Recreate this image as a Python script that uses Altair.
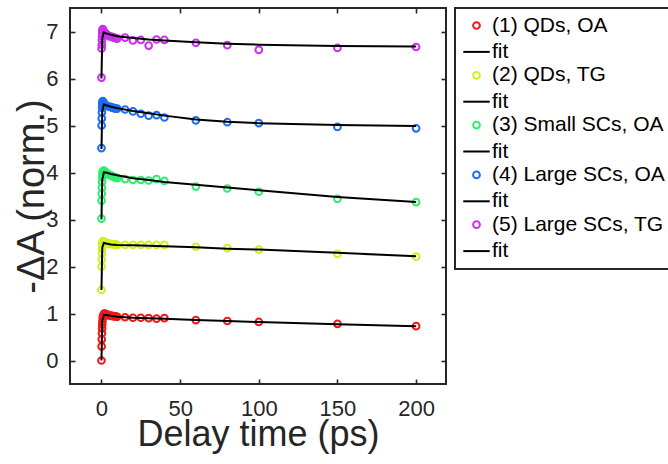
import altair as alt
import pandas as pd

# ---------------- data ----------------
times = [0, 0.1, 0.2, 0.3, 0.4, 0.5, 0.6, 0.8, 1, 1.5, 2, 2.5, 3, 4, 5, 6, 7, 8, 9,
         10, 15, 20, 25, 30, 35, 40, 60, 80, 100, 150, 200]

s1 = [0.00, 0.30, 0.45, 0.58, 0.68, 0.76, 0.83, 0.90, 0.95, 0.99, 1.00, 0.99, 0.98, 0.97, 0.96,
      0.95, 0.95, 0.94, 0.94, 0.93, 0.92, 0.91, 0.91, 0.90, 0.89, 0.90, 0.86, 0.84, 0.82, 0.78, 0.73]
s2 = [1.50, 2.00, 2.15, 2.28, 2.38, 2.45, 2.50, 2.53, 2.54, 2.53, 2.52, 2.51, 2.50, 2.49, 2.48,
      2.48, 2.47, 2.47, 2.47, 2.46, 2.46, 2.46, 2.46, 2.46, 2.46, 2.46, 2.42, 2.39, 2.36, 2.27, 2.21]
s3 = [3.02, 3.40, 3.55, 3.68, 3.80, 3.90, 3.96, 4.01, 4.03, 4.04, 4.03, 4.01, 3.99, 3.97, 3.95,
      3.94, 3.92, 3.90, 3.89, 3.88, 3.86, 3.84, 3.84, 3.83, 3.86, 3.82, 3.70, 3.66, 3.59, 3.44, 3.37]
s4 = [4.52, 5.00, 5.15, 5.28, 5.38, 5.45, 5.50, 5.52, 5.50, 5.48, 5.46, 5.44, 5.42, 5.41, 5.40,
      5.39, 5.38, 5.37, 5.36, 5.36, 5.34, 5.30, 5.25, 5.21, 5.22, 5.17, 5.11, 5.07, 5.05, 4.97, 4.94]
s5 = [6.02, 6.64, 6.72, 6.82, 6.90, 6.96, 7.02, 7.05, 7.04, 7.00, 6.98, 6.96, 6.94, 6.92, 6.90,
      6.89, 6.88, 6.87, 6.86, 6.85, 6.87, 6.81, 6.82, 6.70, 6.83, 6.82, 6.76, 6.71, 6.61, 6.65, 6.67]

fit_t = [0, 0.5, 1.5, 3, 6, 10, 20, 30, 40, 60, 80, 100, 150, 200]
f1 = [0.00, 0.85, 0.97, 0.97, 0.95, 0.93, 0.91, 0.90, 0.89, 0.86, 0.84, 0.82, 0.77, 0.73]
f2 = [1.50, 2.40, 2.50, 2.49, 2.47, 2.46, 2.45, 2.44, 2.43, 2.41, 2.38, 2.36, 2.29, 2.22]
f3 = [3.00, 3.85, 4.00, 4.00, 3.97, 3.94, 3.88, 3.84, 3.80, 3.74, 3.68, 3.62, 3.48, 3.37]
f4 = [4.50, 5.30, 5.45, 5.43, 5.40, 5.37, 5.31, 5.26, 5.21, 5.13, 5.08, 5.05, 5.01, 4.99]
f5 = [6.00, 6.85, 6.98, 6.96, 6.93, 6.90, 6.86, 6.83, 6.81, 6.77, 6.74, 6.72, 6.69, 6.68]

labels = ["(1) QDs, OA", "(2) QDs, TG", "(3) Small SCs, OA",
          "(4) Large SCs, OA", "(5) Large SCs, TG"]
fit_keys = ["fit 1", "fit 2", "fit 3", "fit 4", "fit 5"]
colors = ["#f01818", "#d2f020", "#30ec70", "#1e6ef0", "#cc30ec"]

x_ticks = [0, 50, 100, 150, 200]
y_ticks = [0, 1, 2, 3, 4, 5, 6, 7]

# ---------------- tables ----------------
series = [s1, s2, s3, s4, s5]
fits = [f1, f2, f3, f4, f5]
pts = pd.DataFrame([
    {"t": t, "v": v, "entry": labels[i]}
    for i, s in enumerate(series) for t, v in zip(times, s)
])
lns = pd.DataFrame([
    {"t": t, "v": v, "entry": fit_keys[i], "order": k}
    for i, f in enumerate(fits) for k, (t, v) in enumerate(zip(fit_t, f))
])

domain, crange, srange, zrange = [], [], [], []
for i in range(5):
    domain += [labels[i], fit_keys[i]]
    crange += [colors[i], "#000000"]
    srange += ["circle", "stroke"]
    zrange += [45, 700]

W, H = 376, 376
TXT = "#262626"
FONT = "Liberation Sans"
TICK = 5
lab_expr = "indexof(datum.label, 'fit') === 0 ? 'fit' : datum.label"

x_scale = alt.Scale(domain=[-20, 219], nice=False, zero=False)
y_scale = alt.Scale(domain=[-0.5, 7.5], nice=False, zero=False)

# main axes: labels and titles only
x_main = alt.Axis(values=x_ticks, title="Delay time (ps)", grid=False,
                  ticks=False, tickSize=0, domain=False,
                  labelFontSize=22, labelPadding=14, labelColor=TXT,
                  labelFont=FONT, labelBaseline="top",
                  titleFontSize=36, titleFont=FONT, titleFontWeight="normal",
                  titleColor=TXT, titleBaseline="alphabetic",
                  titleX=W / 2, titleY=61)
y_main = alt.Axis(values=y_ticks, title="-ΔA (norm.)", grid=False,
                  ticks=False, tickSize=0, domain=False,
                  labelFontSize=22, labelPadding=12, labelColor=TXT,
                  labelFont=FONT, labelBaseline="middle",
                  titleFontSize=38, titleFont=FONT, titleFontWeight="normal",
                  titleColor=TXT, titleBaseline="alphabetic",
                  titleAngle=270, titleX=-27, titleY=H / 2)


def tick_axis(vals, orient, offset):
    # tick-only axis moved onto the opposite frame edge so its ticks point inward
    return alt.Axis(values=vals, orient=orient, offset=offset, title=None,
                    labels=False, domain=False, grid=False, ticks=True,
                    tickSize=TICK, tickWidth=1.6, tickColor=TXT)


color_enc = alt.Color("entry:N", scale=alt.Scale(domain=domain, range=crange),
                      legend=alt.Legend(title=None, labelExpr=lab_expr))

points = alt.Chart(pts).mark_point(filled=False, strokeWidth=2, opacity=1).encode(
    x=alt.X("t:Q", scale=x_scale, axis=x_main),
    y=alt.Y("v:Q", scale=y_scale, axis=y_main),
    color=color_enc,
    shape=alt.Shape("entry:N", scale=alt.Scale(domain=domain, range=srange),
                    legend=alt.Legend(title=None, labelExpr=lab_expr)),
    size=alt.Size("entry:N", scale=alt.Scale(type="ordinal", domain=domain, range=zrange),
                  legend=alt.Legend(title=None, labelExpr=lab_expr)),
)

# invisible copy of the fits that carries the top / right inward ticks
frame_ticks = alt.Chart(lns).mark_line(opacity=0).encode(
    x=alt.X("t:Q", scale=x_scale, axis=tick_axis(x_ticks, "bottom", -H)),
    y=alt.Y("v:Q", scale=y_scale, axis=tick_axis(y_ticks, "left", -W)),
    detail="entry:N", order="order:Q",
)

lines = alt.Chart(lns).mark_line(color="black", strokeWidth=2).encode(
    x=alt.X("t:Q", scale=x_scale, axis=tick_axis(x_ticks, "top", -H)),
    y=alt.Y("v:Q", scale=y_scale, axis=tick_axis(y_ticks, "right", -W)),
    color=color_enc, order="order:Q",
)

chart = alt.layer(points, frame_ticks, lines).resolve_axis(
    x="independent", y="independent"
).properties(
    width=W, height=H,
    autosize=alt.AutoSizeParams(type="none"),
    padding={"left": 70, "top": 8, "right": 222, "bottom": 80},
    background="white",
).configure_view(
    stroke=TXT, strokeWidth=2
).configure_legend(
    orient="none", legendX=385, legendY=0,
    labelFontSize=21, labelFont=FONT, labelColor="black", labelLimit=400,
    labelOffset=1, padding=7, rowPadding=1.4,
    strokeColor=TXT, strokeWidth=2, fillColor="white",
    symbolStrokeWidth=2,
)

chart.save("out.html", embed_options={"renderer": "svg", "actions": False})
